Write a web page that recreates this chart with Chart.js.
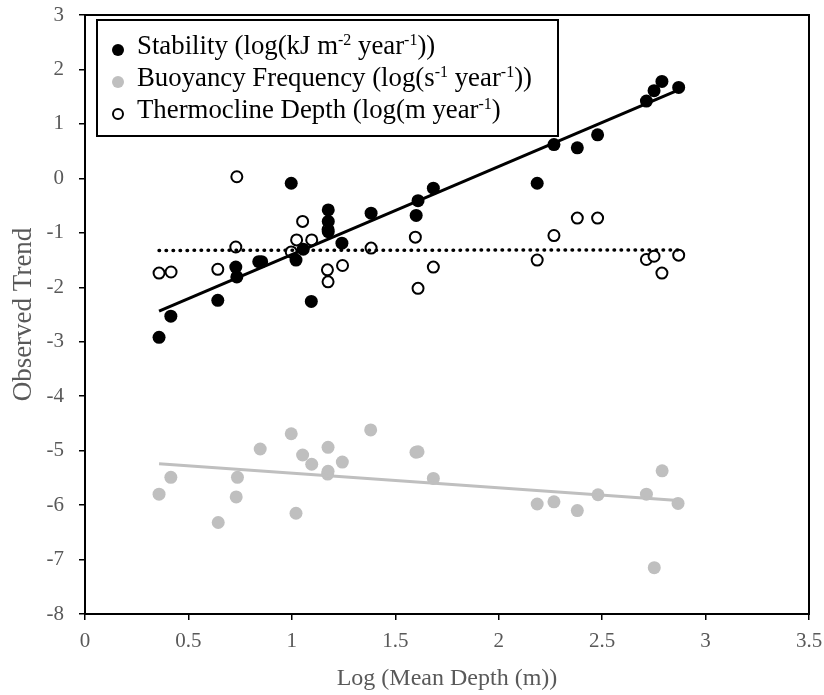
<!DOCTYPE html>
<html>
<head>
<meta charset="utf-8">
<script src="https://cdn.jsdelivr.net/npm/chart.js@4/dist/chart.umd.min.js"></script>
<style>html,body{margin:0;padding:0;background:#fff}</style>
</head>
<body>
<canvas id="chart" width="824" height="695"></canvas>
<script>
// values (x = log mean depth)
const stabilityX = [0.358, 0.415, 0.642, 0.729, 0.734, 0.840, 0.854, 0.997, 1.020, 1.055, 1.094, 1.176, 1.176, 1.176, 1.242, 1.383, 1.601, 1.610, 1.684, 2.186, 2.267, 2.380, 2.478, 2.714, 2.751, 2.789, 2.870];
const stabilityY = [-2.92, -2.53, -2.24, -1.63, -1.81, -1.53, -1.53, -0.09, -1.50, -1.30, -2.26, -0.58, -0.79, -0.98, -1.19, -0.64, -0.68, -0.41, -0.18, -0.09, 0.62, 0.56, 0.80, 1.42, 1.61, 1.78, 1.67];

const buoyancyX = [0.358, 0.415, 0.644, 0.737, 0.731, 0.847, 0.997, 1.020, 1.052, 1.096, 1.175, 1.173, 1.175, 1.244, 1.381, 1.600, 1.610, 1.684, 2.186, 2.267, 2.380, 2.480, 2.714, 2.790, 2.752, 2.867];
const buoyancyY = [-5.80, -5.49, -6.32, -5.49, -5.85, -4.97, -4.69, -6.15, -5.08, -5.25, -4.94, -5.43, -5.38, -5.21, -4.62, -5.03, -5.02, -5.51, -5.98, -5.94, -6.10, -5.81, -5.80, -5.37, -7.15, -5.97];

const thermoX = [0.358, 0.416, 0.642, 0.734, 0.729, 0.997, 1.023, 1.052, 1.096, 1.175, 1.172, 1.175, 1.245, 1.383, 1.597, 1.610, 1.684, 2.186, 2.267, 2.380, 2.478, 2.714, 2.751, 2.789, 2.870];
const thermoY = [-1.74, -1.72, -1.67, 0.03, -1.26, -1.35, -1.13, -0.79, -1.13, -0.94, -1.68, -1.90, -1.60, -1.28, -1.08, -2.02, -1.63, -1.50, -1.05, -0.73, -0.73, -1.49, -1.43, -1.74, -1.41];

const xTicks = [0, 0.5, 1, 1.5, 2, 2.5, 3, 3.5];
const yTicks = [-8, -7, -6, -5, -4, -3, -2, -1, 0, 1, 2, 3];

// legend text, [text, isSuperscript]
const legendLabels = [
  [['Stability (log(kJ m', 0], ['-2', 1], [' year', 0], ['-1', 1], ['))', 0]],
  [['Buoyancy Frequency (log(s', 0], ['-1', 1], [' year', 0], ['-1', 1], ['))', 0]],
  [['Thermocline Depth (log(m year', 0], ['-1', 1], [')', 0]]
];

const SERIF = "'Liberation Serif', 'Times New Roman', serif";
const GREY_TEXT = '#595959';
const LIGHT = '#bfbfbf';

function toPoints(xs, ys) {
  return xs.map((x, i) => ({x: x, y: ys[i]}));
}

// least squares trend line, like the spreadsheet one
function trend(xs, ys) {
  const n = xs.length;
  let sx = 0, sy = 0, sxx = 0, sxy = 0;
  for (let i = 0; i < n; i++) {
    sx += xs[i]; sy += ys[i]; sxx += xs[i] * xs[i]; sxy += xs[i] * ys[i];
  }
  const b = (n * sxy - sx * sy) / (n * sxx - sx * sx);
  const a = (sy - b * sx) / n;
  const x0 = Math.min(...xs), x1 = Math.max(...xs);
  return [{x: x0, y: a + b * x0}, {x: x1, y: a + b * x1}];
}

function noPad(s) {
  s.paddingLeft = 0; s.paddingRight = 0; s.paddingTop = 0; s.paddingBottom = 0;
}

const framePlugin = {
  id: 'frame',
  afterDraw(chart) {
    const ctx = chart.ctx, a = chart.chartArea;
    ctx.save();
    ctx.strokeStyle = '#000';
    ctx.lineWidth = 2;
    ctx.strokeRect(a.left, a.top, a.right - a.left, a.bottom - a.top);

    // legend box
    const bx = a.left + 12, by = a.top + 5, bw = 461, bh = 116;
    ctx.fillStyle = '#fff';
    ctx.fillRect(bx, by, bw, bh);
    ctx.strokeRect(bx, by, bw, bh);

    const rows = [34, 66, 98];
    legendLabels.forEach((parts, i) => {
      const base = by + rows[i];
      const mx = bx + 21, my = base - 4;
      ctx.beginPath();
      ctx.arc(mx, my, i === 2 ? 5 : 6, 0, Math.PI * 2);
      if (i === 0) { ctx.fillStyle = '#000'; ctx.fill(); }
      else if (i === 1) { ctx.fillStyle = LIGHT; ctx.fill(); }
      else { ctx.fillStyle = '#fff'; ctx.fill(); ctx.lineWidth = 2; ctx.strokeStyle = '#000'; ctx.stroke(); }

      let tx = bx + 40;
      ctx.fillStyle = '#000';
      ctx.textBaseline = 'alphabetic';
      ctx.textAlign = 'left';
      parts.forEach(([txt, sup]) => {
        ctx.font = (sup ? '16px ' : '26.8px ') + SERIF;
        ctx.fillText(txt, tx, sup ? base - 9 : base);
        tx += ctx.measureText(txt).width;
      });
    });
    ctx.restore();
  }
};

new Chart(document.getElementById('chart'), {
  type: 'scatter',
  data: {
    datasets: [
      {
        type: 'line', data: trend(stabilityX, stabilityY),
        borderColor: '#000', borderWidth: 3, pointRadius: 0, fill: false, order: 0
      },
      {
        type: 'line', data: trend(thermoX, thermoY),
        borderColor: '#000', borderWidth: 3.5, borderDash: [0.5, 6.5], borderCapStyle: 'round',
        pointRadius: 0, fill: false, order: 0
      },
      {
        type: 'line', data: trend(buoyancyX, buoyancyY),
        borderColor: LIGHT, borderWidth: 3, pointRadius: 0, fill: false, order: 0
      },
      {
        label: 'Stability', data: toPoints(stabilityX, stabilityY),
        backgroundColor: '#000', borderColor: '#000', borderWidth: 0, pointRadius: 6.5, order: 1
      },
      {
        label: 'Buoyancy Frequency', data: toPoints(buoyancyX, buoyancyY),
        backgroundColor: LIGHT, borderColor: LIGHT, borderWidth: 0, pointRadius: 6.5, order: 1
      },
      {
        label: 'Thermocline Depth', data: toPoints(thermoX, thermoY),
        backgroundColor: '#fff', borderColor: '#000', borderWidth: 2, pointRadius: 5.5, order: 1
      }
    ]
  },
  options: {
    responsive: false,
    animation: false,
    layout: {padding: {top: 15, right: 15, left: 0, bottom: 0}},
    plugins: {legend: {display: false}, tooltip: {enabled: false}},
    scales: {
      x: {
        type: 'linear', min: 0, max: 3.5,
        afterBuildTicks(s) { s.ticks = xTicks.map(v => ({value: v})); },
        afterFit(s) { s.height = 81; noPad(s); },
        ticks: {color: GREY_TEXT, font: {family: SERIF, size: 21}, padding: 9,
          callback: v => String(v)},
        grid: {drawOnChartArea: false, drawTicks: true, tickLength: 6, color: '#000', lineWidth: 1.5},
        border: {color: '#000', width: 2},
        title: {display: true, text: 'Log (Mean Depth (m))', color: GREY_TEXT,
          font: {family: SERIF, size: 24}, padding: {top: 0, bottom: 2}}
      },
      y: {
        min: -8, max: 3,
        afterBuildTicks(s) { s.ticks = yTicks.map(v => ({value: v})); },
        afterFit(s) { s.width = 85; noPad(s); },
        ticks: {color: GREY_TEXT, font: {family: SERIF, size: 21}, padding: 15},
        grid: {drawOnChartArea: false, drawTicks: true, tickLength: 6, color: '#000', lineWidth: 1.5},
        border: {color: '#000', width: 2},
        title: {display: true, text: 'Observed Trend', color: GREY_TEXT,
          font: {family: SERIF, size: 27}, padding: {top: 8, bottom: 0}}
      }
    }
  },
  plugins: [framePlugin]
});
</script>
</body>
</html>
